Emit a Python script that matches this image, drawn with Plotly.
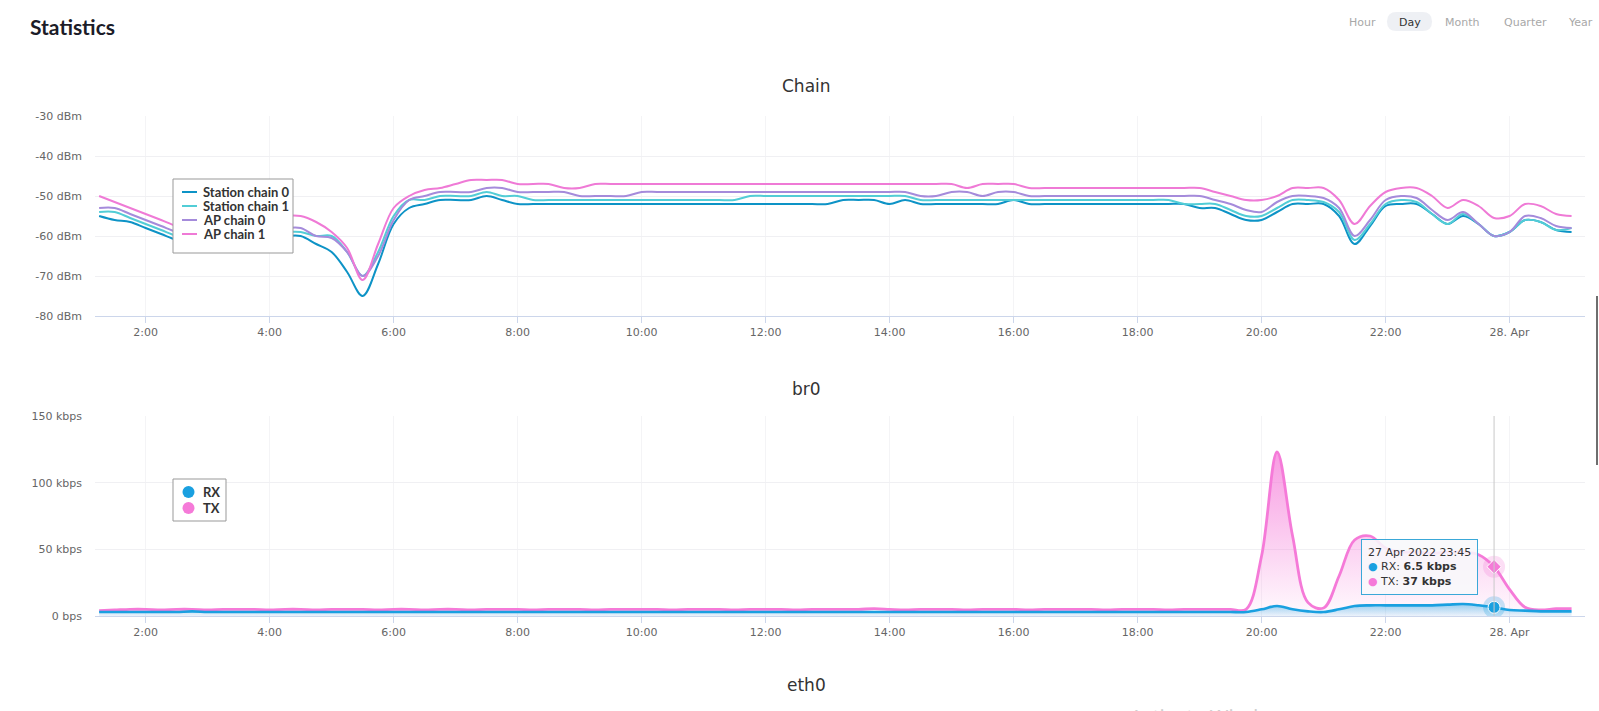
import pandas as pd
import plotly.graph_objects as go

W, H = 1599, 711

# ---------------- data ----------------
times = [t.strftime("%Y-%m-%d %H:%M") for t in
         pd.date_range("2022-04-27 01:15", "2022-04-28 01:00", freq="15min")]

chain_names = ["Station chain 0", "Station chain 1", "AP chain 0", "AP chain 1"]
chain_colors = ["#0d93c6", "#52cdd6", "#a58bdb", "#ef7ad6"]

station_chain_0 = [
    -55, -56, -56.5, -58, -59.5, -61, -62, -62, -62, -61, -61, -60,
    -60, -60, -62, -64, -69, -75, -67, -57, -53, -52, -51, -51,
    -51, -50, -51, -52, -52, -52, -52, -52, -52, -52, -52, -52,
    -52, -52, -52, -52, -52, -52, -52, -52, -52, -52, -52, -52,
    -51, -51, -51, -52, -51, -52, -52, -52, -52, -52, -52, -51,
    -52, -52, -52, -52, -52, -52, -52, -52, -52, -52, -52, -53,
    -53, -54.5, -56, -56, -54, -52, -52, -52, -55, -62, -57.5, -52.5,
    -52, -52, -54.5, -57, -55, -57, -60, -59, -56, -56.5, -58.5, -59,
]
station_chain_1 = [
    -54, -54, -55.5, -57, -58.5, -60, -61, -61, -61, -60, -60, -59,
    -59, -59, -60, -60, -64, -70, -64, -55, -51, -51, -50, -50,
    -50, -49, -50, -50, -51, -51, -51, -51, -51, -51, -51, -51,
    -51, -51, -51, -51, -51, -51, -50, -50, -50, -50, -50, -50,
    -50, -50, -50, -50, -50, -51, -51, -51, -51, -51, -51, -51,
    -51, -51, -51, -51, -51, -51, -51, -51, -51, -51, -52, -52,
    -52, -53.5, -55, -55, -53, -51, -51, -51.5, -54, -61, -57, -52,
    -51, -51.5, -54.5, -57, -54.5, -57, -60, -59, -56, -56.5, -58.5, -58,
]
ap_chain_0 = [
    -53, -53, -54.5, -56, -57.5, -59, -60, -60, -60, -59, -59, -58,
    -58, -58, -60, -60.5, -64, -70, -65, -56, -51, -50, -49, -49,
    -49, -48, -48, -49, -49, -49, -49, -50, -50, -50, -50, -49,
    -49, -49, -49, -49, -49, -49, -49, -49, -49, -49, -49, -49,
    -49, -49, -49, -49, -49, -50, -50, -49, -49, -50, -49, -49,
    -50, -50, -50, -50, -50, -50, -50, -50, -50, -50, -50, -50,
    -51, -52, -53.5, -54, -51.5, -50, -50, -50.5, -53, -60, -56, -51,
    -50, -50.5, -53.5, -56, -54, -57, -60, -59, -55, -55.5, -57.5, -58,
]
ap_chain_1 = [
    -50, -51.5, -53, -54.5, -56, -57.5, -58, -58, -57, -57, -56, -56,
    -55, -55, -56.5, -59, -63, -71, -62, -53, -50, -48.5, -48, -47,
    -46, -46, -46, -47, -47, -47, -48, -48, -47, -47, -47, -47,
    -47, -47, -47, -47, -47, -47, -47, -47, -47, -47, -47, -47,
    -47, -47, -47, -47, -47, -47, -47, -47, -48, -47, -47, -47,
    -48, -48, -48, -48, -48, -48, -48, -48, -48, -48, -48, -48,
    -49, -50, -51, -51, -50, -48, -48, -48, -51, -57, -52.5, -49,
    -48, -48, -50, -53, -51, -52.5, -55.5, -55, -52, -52.5, -54.5, -55,
]
chain_series = [station_chain_0, station_chain_1, ap_chain_0, ap_chain_1]

br0_names = ["RX", "TX"]
br0_colors = ["#1aa0e0", "#f57ad8"]
rx_kbps = [
    3, 3, 3, 3, 3, 3, 3.5, 3, 3, 3, 3, 3,
    3, 3, 3, 3, 3, 3, 3, 3, 3, 3, 3, 3,
    3, 3, 3, 3, 3, 3, 3, 3, 3, 3, 3, 3,
    3, 3, 3, 3, 3, 3, 3, 3, 3, 3, 3, 3,
    3, 3, 3, 3, 3, 3, 3, 3, 3, 3, 3, 3,
    3, 3, 3, 3, 3, 3, 3, 3, 3, 3, 3, 3,
    3, 3, 3, 5, 7.5, 5, 3.5, 3, 5, 7.5, 8, 8,
    8, 8, 8, 8.5, 9, 8, 6.5, 4.5, 4, 3.5, 3.5, 3.5,
]
tx_kbps = [
    4, 4.5, 5, 5, 4.5, 5, 5, 4.5, 5, 5, 5, 4.5,
    5, 5, 4.5, 5, 5, 5, 4.5, 5, 5, 4.5, 5, 5,
    4.5, 5, 5, 5, 4.5, 5, 5, 5, 4.5, 5, 5, 5,
    5, 4.5, 5, 5, 5, 4.5, 5, 5, 5, 4.5, 5, 5,
    5, 5, 5.5, 5, 4.5, 5, 5, 5, 4.5, 5, 5, 5,
    4.5, 5, 5, 5, 5, 4.5, 5, 5, 5, 4.5, 5, 5,
    5, 5, 5, 45, 123, 60, 10, 6, 30, 57, 60, 51,
    48, 48, 47, 48, 48, 46, 37, 20, 6.5, 4.5, 5.5, 5.5,
]

x_tickvals = ["2022-04-27 02:00", "2022-04-27 04:00", "2022-04-27 06:00", "2022-04-27 08:00",
              "2022-04-27 10:00", "2022-04-27 12:00", "2022-04-27 14:00", "2022-04-27 16:00",
              "2022-04-27 18:00", "2022-04-27 20:00", "2022-04-27 22:00", "2022-04-28 00:00"]
x_ticktext = ["2:00", "4:00", "6:00", "8:00", "10:00", "12:00", "14:00", "16:00",
              "18:00", "20:00", "22:00", "28. Apr"]
x_range = ["2022-04-27 01:11", "2022-04-28 01:13"]

chain_tickvals = [-80, -70, -60, -50, -40, -30]
chain_ticktext = ["-80 dBm", "-70 dBm", "-60 dBm", "-50 dBm", "-40 dBm", "-30 dBm"]
br0_tickvals = [0, 50, 100, 150]
br0_ticktext = ["0 bps", "50 kbps", "100 kbps", "150 kbps"]

period_buttons = ["Hour", "Day", "Month", "Quarter", "Year"]
active_period = "Day"
tooltip_time = "2022-04-27 23:45"
tooltip_label = "27 Apr 2022 23:45"

# ---------------- helpers ----------------
def px(x):
    return x / W


def py(y):
    return 1 - y / H


TICK_FONT = dict(family="DejaVu Sans", size=11, color="#666666")

fig = go.Figure()

# Chain traces
for name, col, ser in zip(chain_names, chain_colors, chain_series):
    fig.add_trace(go.Scatter(
        x=times, y=ser, name=name, mode="lines",
        line=dict(color=col, width=2, shape="spline", smoothing=1),
        xaxis="x", yaxis="y", showlegend=False, hoverinfo="skip"))

# br0 traces (TX behind, RX in front)
fig.add_trace(go.Scatter(
    x=times, y=tx_kbps, name="TX", mode="lines", fill="tozeroy",
    line=dict(color=br0_colors[1], width=2.8, shape="spline", smoothing=1),
    fillgradient=dict(type="vertical",
                      colorscale=[[0, "rgba(245,122,216,0.04)"], [1, "rgba(245,122,216,0.75)"]]),
    xaxis="x2", yaxis="y2", showlegend=False, hoverinfo="skip"))
fig.add_trace(go.Scatter(
    x=times, y=rx_kbps, name="RX", mode="lines", fill="tozeroy",
    line=dict(color=br0_colors[0], width=2.6, shape="spline", smoothing=1),
    fillgradient=dict(type="vertical",
                      colorscale=[[0, "rgba(26,160,224,0.08)"], [1, "rgba(26,160,224,0.45)"]]),
    xaxis="x2", yaxis="y2", showlegend=False, hoverinfo="skip"))

# highlighted hover points
idx = times.index(tooltip_time)
fig.add_trace(go.Scatter(x=[times[idx]], y=[tx_kbps[idx]], mode="markers",
                         marker=dict(size=22, color="rgba(245,122,216,0.25)"),
                         xaxis="x2", yaxis="y2", showlegend=False, hoverinfo="skip"))
fig.add_trace(go.Scatter(x=[times[idx]], y=[tx_kbps[idx]], mode="markers",
                         marker=dict(size=11, symbol="diamond", color=br0_colors[1],
                                     line=dict(color="white", width=1)),
                         xaxis="x2", yaxis="y2", showlegend=False, hoverinfo="skip"))
fig.add_trace(go.Scatter(x=[times[idx]], y=[rx_kbps[idx]], mode="markers",
                         marker=dict(size=22, color="rgba(26,160,224,0.25)"),
                         xaxis="x2", yaxis="y2", showlegend=False, hoverinfo="skip"))
fig.add_trace(go.Scatter(x=[times[idx]], y=[rx_kbps[idx]], mode="markers",
                         marker=dict(size=12, color=br0_colors[0],
                                     line=dict(color="white", width=1)),
                         xaxis="x2", yaxis="y2", showlegend=False, hoverinfo="skip"))

xdom = [px(95), px(1585)]
xaxis_common = dict(
    type="date", range=x_range, tickvals=x_tickvals, ticktext=x_ticktext,
    tickfont=TICK_FONT, showline=True, linecolor="#ccd6eb", linewidth=1,
    ticks="outside", ticklen=6, tickcolor="#ccd6eb", showgrid=True,
    gridcolor="#f4f4f6", gridwidth=1, zeroline=False, domain=xdom, fixedrange=True,
    automargin=False)
yaxis_common = dict(
    tickfont=TICK_FONT, showline=False, showgrid=True, gridcolor="#f0f0f3",
    gridwidth=1, zeroline=False, ticks="", ticklabelstandoff=12, fixedrange=True,
    automargin=False)

shapes = []
annotations = []

# crosshair
shapes.append(dict(type="line", xref="x2", yref="y2 domain", x0=times[idx], x1=times[idx],
                   y0=0, y1=1, line=dict(color="#c8c8c8", width=1), layer="above"))

# chain legend (custom box)
shapes.append(dict(type="rect", xref="paper", yref="paper", x0=px(173), x1=px(293),
                   y0=py(253), y1=py(179), line=dict(color="#999999", width=1),
                   fillcolor="white", layer="above"))
chain_rows = [192, 206, 220, 234]
for name, col, ry in zip(chain_names, chain_colors, chain_rows):
    shapes.append(dict(type="line", xref="paper", yref="paper", x0=px(182), x1=px(197),
                       y0=py(ry), y1=py(ry), line=dict(color=col, width=2), layer="above"))
    annotations.append(dict(text=name, xref="paper", yref="paper", x=px(201), y=py(ry),
                            xanchor="left", yanchor="middle", showarrow=False,
                            font=dict(family="Lato", size=13, color="#333333", weight="bold")))

# br0 legend (custom box)
shapes.append(dict(type="rect", xref="paper", yref="paper", x0=px(173), x1=px(226),
                   y0=py(521), y1=py(479), line=dict(color="#999999", width=1),
                   fillcolor="white", layer="above"))
br0_rows = [492, 508]
for name, col, ry in zip(br0_names, br0_colors, br0_rows):
    shapes.append(dict(type="circle", xref="paper", yref="paper", x0=px(182.5), x1=px(194.5),
                       y0=py(ry + 6), y1=py(ry - 6), line=dict(width=0), fillcolor=col,
                       layer="above"))
    annotations.append(dict(text=name, xref="paper", yref="paper", x=px(201), y=py(ry),
                            xanchor="left", yanchor="middle", showarrow=False,
                            font=dict(family="Lato", size=13, color="#333333", weight="bold")))

# titles
annotations.append(dict(text="Statistics", xref="paper", yref="paper", x=px(28), y=py(27),
                        xanchor="left", yanchor="middle", showarrow=False,
                        font=dict(family="Lato", size=21, color="#1c1c28", weight="bold")))
for t, yy in [("Chain", 86), ("br0", 389), ("eth0", 685)]:
    annotations.append(dict(text=t, xref="paper", yref="paper", x=px(806), y=py(yy),
                            xanchor="center", yanchor="middle", showarrow=False,
                            font=dict(family="DejaVu Sans", size=17, color="#333333")))

# period buttons
pill_x0, pill_x1, pill_y0, pill_y1, r = 1387, 1432, 12, 31, 9.5
path = (f"M {px(pill_x0 + r)},{py(pill_y0)} L {px(pill_x1 - r)},{py(pill_y0)} "
        f"Q {px(pill_x1)},{py(pill_y0)} {px(pill_x1)},{py(pill_y0 + r)} "
        f"Q {px(pill_x1)},{py(pill_y1)} {px(pill_x1 - r)},{py(pill_y1)} "
        f"L {px(pill_x0 + r)},{py(pill_y1)} "
        f"Q {px(pill_x0)},{py(pill_y1)} {px(pill_x0)},{py(pill_y1 - r)} "
        f"Q {px(pill_x0)},{py(pill_y0)} {px(pill_x0 + r)},{py(pill_y0)} Z")
shapes.append(dict(type="path", xref="paper", yref="paper", path=path,
                   fillcolor="#eef0f4", line=dict(width=0), layer="below"))
btn_centers = [1362, 1410, 1462, 1525, 1580]
for lab, cx in zip(period_buttons, btn_centers):
    annotations.append(dict(text=lab, xref="paper", yref="paper", x=px(cx), y=py(22),
                            xanchor="center", yanchor="middle", showarrow=False,
                            font=dict(family="DejaVu Sans", size=11,
                                      color="#333333" if lab == active_period else "#a8a8a8")))

# tooltip
tip_text = (f"{tooltip_label}<br>"
            f"<span style='color:{br0_colors[0]}'>●</span> RX: <b>{rx_kbps[idx]:g} kbps</b><br>"
            f"<span style='color:{br0_colors[1]}'>●</span> TX: <b>{tx_kbps[idx]:g} kbps</b>")
annotations.append(dict(text=tip_text, xref="paper", yref="paper", x=px(1361), y=py(539),
                        xanchor="left", yanchor="top", showarrow=False, align="left",
                        bgcolor="rgba(248,248,250,0.88)", bordercolor="#3aa8d8",
                        borderwidth=1, borderpad=6,
                        font=dict(family="DejaVu Sans", size=11, color="#333333")))

# scrollbar thumb edge & faint (cut-off) watermark
shapes.append(dict(type="line", xref="paper", yref="paper", x0=px(1597), x1=px(1597),
                   y0=py(296), y1=py(465), line=dict(color="#6e6e6e", width=2)))
annotations.append(dict(text="Activate Windows", xref="paper", yref="paper", x=px(1128),
                        y=py(717), xanchor="left", yanchor="middle", showarrow=False,
                        font=dict(family="Noto Sans", size=20, color="#cfcfcf")))

fig.update_layout(
    width=W, height=H, autosize=False,
    margin=dict(l=0, r=0, t=0, b=0, autoexpand=False),
    paper_bgcolor="white", plot_bgcolor="white",
    hovermode=False, showlegend=False,
    xaxis=dict(**xaxis_common, anchor="y"),
    yaxis=dict(**yaxis_common, range=[-80, -30], tickvals=chain_tickvals,
               ticktext=chain_ticktext, domain=[py(316), py(116)], anchor="x"),
    xaxis2=dict(**xaxis_common, anchor="y2"),
    yaxis2=dict(**yaxis_common, range=[0, 150], tickvals=br0_tickvals,
                ticktext=br0_ticktext, domain=[py(616), py(416)], anchor="x2"),
    shapes=shapes, annotations=annotations,
)

fig.write_html("out.html", config={"displayModeBar": False},
               post_script="document.body.style.margin='0';document.body.style.overflow='hidden';")
